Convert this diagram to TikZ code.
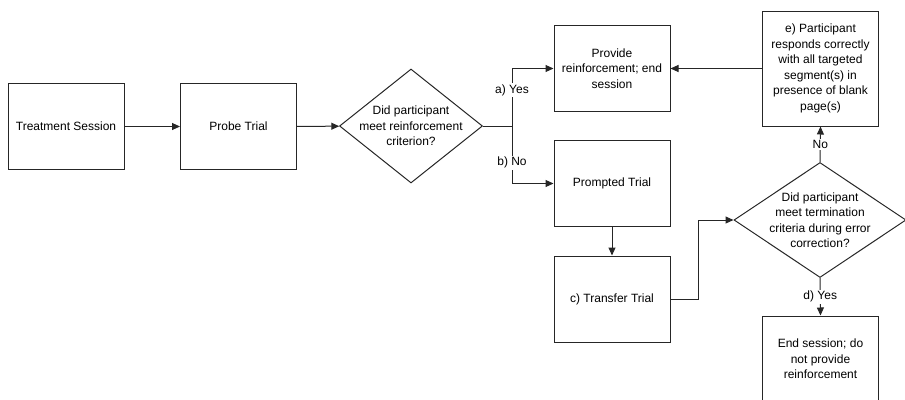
\documentclass[tikz,border=0pt]{standalone}
\usepackage{fontspec}
\setmainfont{Liberation Sans}
\usetikzlibrary{arrows.meta,shapes.geometric}
\begin{document}
\begin{tikzpicture}[
   x=1pt,y=-1pt,
   font=\fontsize{12}{15.5}\selectfont,
   block/.style={draw=black!85,line width=1pt,align=center,minimum width=116pt,minimum height=86pt,inner sep=2pt},
   decision/.style={draw=black!85,line width=1pt,diamond,inner sep=0pt},
   to/.style={-{Triangle[length=8pt,width=7pt]},line width=1pt,draw=black!85},
   lbl/.style={fill=white,inner sep=1.5pt}]
\clip (0,0) rectangle (905,399);
\node[block] (TS) at (66,126.5) {Treatment Session};
\node[block] (PT) at (238.5,126.5) {Probe Trial};
\node[decision,minimum width=143pt,minimum height=114pt,
  label={[align=center]center:Did participant\\meet reinforcement\\criterion?}] (D1) at (411,126) {};
\node[block] (PR) at (612,68.5) {Provide\\reinforcement; end\\session};
\node[block] (PM) at (612,183.5) {Prompted Trial};
\node[block] (TR) at (612,299) {c) Transfer Trial};
\node[decision,minimum width=172pt,minimum height=115pt,
  label={[align=center]center:Did participant\\meet termination\\criteria during error\\correction?}] (D2) at (820,220) {};
\node[block,minimum height=115pt] (E) at (820.5,68.5) {e) Participant\\responds correctly\\with all targeted\\segment(s) in\\presence of blank\\page(s)};
\node[block] (ES) at (820.5,359) {End session; do\\not provide\\reinforcement};
\coordinate (J) at (512,126);
% connectors
\draw[to] (TS) -- (PT);
\draw[to] (PT) -- (D1);
\draw[draw=black!85,line width=1pt] (D1.east) -- (J);
\draw[to] (J) |- node[lbl,pos=0.31] {a) Yes} (PR.west);
\draw[to] (J) |- node[lbl,pos=0.32] {b) No} (PM.west);
\draw[to] (PM) -- (TR);
\draw[to] (TR.east) -- ++(28,0) |- (D2.west);
\draw[to] (D2.north) -- node[lbl] {No} (E.south);
\draw[to] (E.west) -- (PR.east);
\draw[to] (D2.south) -- node[lbl] {d) Yes} (ES.north);
\end{tikzpicture}
\end{document}
